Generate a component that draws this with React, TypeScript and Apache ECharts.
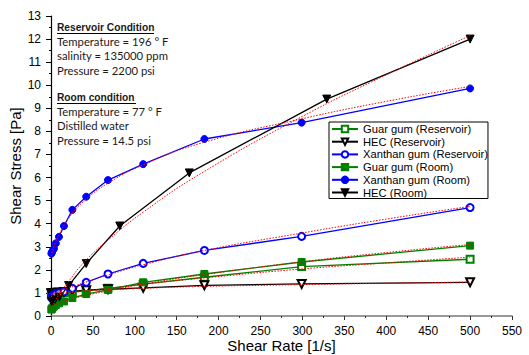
import React, { useEffect, useRef } from "react";
import * as echarts from "echarts";

// Shear rates [1/s]
const rates = [0.5, 0.8, 1.3, 2.2, 3.6, 5.8, 9.5, 15.5, 25.5, 42, 68, 110, 183, 299, 500];
const hecRoomRates = [1, 2.5, 5, 10, 21, 42, 82, 165, 329, 500];

// Shear stress [Pa]
const guarRes = [0.95, 0.95, 0.96, 0.97, 0.98, 0.99, 1.0, 1.02, 1.05, 1.1, 1.2, 1.38, 1.68, 2.14, 2.46];
const hecRes = [0.98, 0.98, 0.99, 1.0, 1.0, 1.01, 1.02, 1.04, 1.07, 1.12, 1.16, 1.22, 1.33, 1.39, 1.46];
const xanthanRes = [0.8, 0.82, 0.85, 0.88, 0.92, 0.96, 1.0, 1.05, 1.2, 1.46, 1.82, 2.28, 2.84, 3.45, 4.7];
const guarRoom = [0.28, 0.3, 0.33, 0.37, 0.42, 0.48, 0.55, 0.63, 0.78, 0.95, 1.13, 1.46, 1.82, 2.34, 3.05];
const xanthanRoom = [2.7, 2.74, 2.78, 2.85, 2.92, 3.15, 3.43, 3.9, 4.6, 5.17, 5.89, 6.58, 7.67, 8.38, 9.86];
const hecRoom = [0.62, 0.67, 0.72, 0.82, 1.32, 2.27, 3.9, 6.2, 9.4, 12.0];

// Model fit curves (red dotted)
const fitRates = [0, 2, 5, 10, 20, 40, 70, 110, 180, 300, 400, 500];
const guarResFit = [0.85, 0.88, 0.9, 0.93, 0.98, 1.08, 1.2, 1.38, 1.64, 2.04, 2.3, 2.55];
const hecResFit = [0.95, 0.97, 0.99, 1.01, 1.04, 1.09, 1.14, 1.2, 1.28, 1.36, 1.42, 1.47];
const xanthanResFit = [0.8, 0.92, 1.0, 1.08, 1.2, 1.45, 1.8, 2.22, 2.82, 3.6, 4.2, 4.75];
const guarRoomFit = [0.3, 0.4, 0.48, 0.56, 0.68, 0.88, 1.1, 1.38, 1.78, 2.35, 2.75, 3.1];
const xanthanRoomFit = [2.6, 2.85, 3.15, 3.55, 4.2, 5.0, 5.8, 6.55, 7.5, 8.55, 9.3, 9.95];
const hecRoomFit = [0.4, 0.5, 0.65, 0.95, 1.45, 2.35, 3.35, 4.5, 6.2, 8.65, 10.45, 12.15];

const legendNames = [
  "Guar gum (Reservoir)",
  "HEC (Reservoir)",
  "Xanthan gum (Reservoir)",
  "Guar gum (Room)",
  "Xanthan gum (Room)",
  "HEC (Room)",
];

const reservoirLines = ["Temperature = 196 ° F", "salinity = 135000 ppm", "Pressure = 2200 psi"];
const roomLines = ["Temperature = 77 ° F", "Distilled water", "Pressure = 14.5 psi"];

const GREEN = "#008000";
const BLUE = "#0000ff";
const BLACK = "#000000";

function zip(xs: number[], ys: number[]) {
  return xs.map((x, i) => [x, ys[i]]);
}

export default function App() {
  const ref = useRef<HTMLDivElement>(null);
  useEffect(() => {
    if (!ref.current) return;
    const chart = echarts.init(ref.current, undefined, { renderer: "svg" });
    const font = "Liberation Sans, Arial, sans-serif";

    const dataSeries = (
      name: string,
      xs: number[],
      ys: number[],
      color: string,
      symbol: string,
      rotate: number,
      size: number,
      z: number
    ) => ({
      name,
      type: "line",
      data: zip(xs, ys),
      symbol,
      symbolSize: size,
      symbolRotate: rotate,
      showAllSymbol: true,
      z,
      lineStyle: { color, width: 1.3 },
      itemStyle: { color, borderColor: color, borderWidth: 1 },
    });

    const fitSeries = (xs: number[], ys: number[]) => ({
      name: "fit",
      type: "line",
      data: zip(xs, ys),
      symbol: "none",
      smooth: true,
      z: 10,
      silent: true,
      lineStyle: { color: "#ff0000", width: 1, type: [1.5, 1.5] },
    });

    const annot: any[] = [];
    const tx = 57;
    const addText = (text: string, y: number, bold: boolean) => {
      annot.push({
        type: "text",
        style: {
          text,
          x: tx,
          y,
          fontFamily: bold ? "Liberation Sans, Arial, sans-serif" : "Lato, sans-serif",
          fontSize: bold ? 10.2 : 11.3,
          fontWeight: bold ? "bold" : "normal",
          fill: "#1a1a1a",
          verticalAlign: "middle",
        },
      });
    };
    addText("Reservoir Condition", 27, true);
    reservoirLines.forEach((t, i) => addText(t, 41.5 + i * 14.4, false));
    addText("Room condition", 97, true);
    roomLines.forEach((t, i) => addText(t, 111 + i * 14.6, false));
    annot.push({ type: "line", shape: { x1: 57, y1: 33.5, x2: 154, y2: 33.5 }, style: { stroke: "#000", lineWidth: 1 } });
    annot.push({ type: "line", shape: { x1: 57, y1: 103.5, x2: 136, y2: 103.5 }, style: { stroke: "#000", lineWidth: 1 } });

    chart.setOption({
      animation: false,
      backgroundColor: "#ffffff",
      grid: { left: 51, right: 17, top: 16, bottom: 39, containLabel: false, outerBoundsMode: "none" },
      legend: {
        data: legendNames,
        orient: "vertical",
        left: 329,
        top: 122,
        padding: [1, 0, 0, 2],
        itemGap: 0.7,
        itemWidth: 26,
        itemHeight: 8,
        borderColor: "#000",
        borderWidth: 1,
        backgroundColor: "#fff",
        textStyle: { fontFamily: font, fontSize: 11.2, color: "#000", lineHeight: 12 },
      },
      xAxis: {
        type: "value",
        min: 0,
        max: 550,
        interval: 50,
        name: "Shear Rate [1/s]",
        nameLocation: "middle",
        nameGap: 22,
        nameMoveOverlap: false,
        nameTextStyle: { fontFamily: font, fontSize: 15, color: "#000" },
        axisLine: { show: true, onZero: false, lineStyle: { color: "#777", width: 1.5 } },
        axisTick: { show: true, length: 4, inside: false, lineStyle: { color: "#333" } },
        minorTick: { show: true, splitNumber: 2, length: 2, lineStyle: { color: "#333" } },
        axisLabel: { fontFamily: font, fontSize: 12, color: "#000", margin: 9 },
        splitLine: { show: false },
      },
      yAxis: {
        type: "value",
        min: 0,
        max: 13,
        interval: 1,
        name: "Shear Stress [Pa]",
        nameLocation: "middle",
        nameGap: 28,
        nameMoveOverlap: false,
        nameTextStyle: { fontFamily: font, fontSize: 15, color: "#000" },
        axisLine: { show: true, onZero: false, lineStyle: { color: "#000", width: 1.2 } },
        axisTick: { show: true, length: 5, inside: false, lineStyle: { color: "#000" } },
        minorTick: { show: true, splitNumber: 2, length: 2, lineStyle: { color: "#000" } },
        axisLabel: { fontFamily: font, fontSize: 12, color: "#000", margin: 10 },
        splitLine: { show: false },
      },
      graphic: annot,
      series: [
        dataSeries(legendNames[0], rates, guarRes, GREEN, "emptyRect", 0, 7, 3),
        dataSeries(legendNames[1], rates, hecRes, BLACK, "emptyTriangle", 180, 8, 3),
        dataSeries(legendNames[2], rates, xanthanRes, BLUE, "emptyCircle", 0, 7, 3),
        dataSeries(legendNames[3], rates, guarRoom, GREEN, "rect", 0, 7, 4),
        dataSeries(legendNames[4], rates, xanthanRoom, BLUE, "circle", 0, 7, 4),
        dataSeries(legendNames[5], hecRoomRates, hecRoom, BLACK, "triangle", 180, 8, 5),
        fitSeries(fitRates, guarResFit),
        fitSeries(fitRates, hecResFit),
        fitSeries(fitRates, xanthanResFit),
        fitSeries(fitRates, guarRoomFit),
        fitSeries(fitRates, xanthanRoomFit),
        fitSeries(fitRates, hecRoomFit),
      ],
    } as any);
    return () => chart.dispose();
  }, []);
  return (
    <div
      ref={ref}
      style={{ position: "fixed", left: 0, top: 0, width: 529, height: 355, background: "#fff" }}
    />
  );
}
